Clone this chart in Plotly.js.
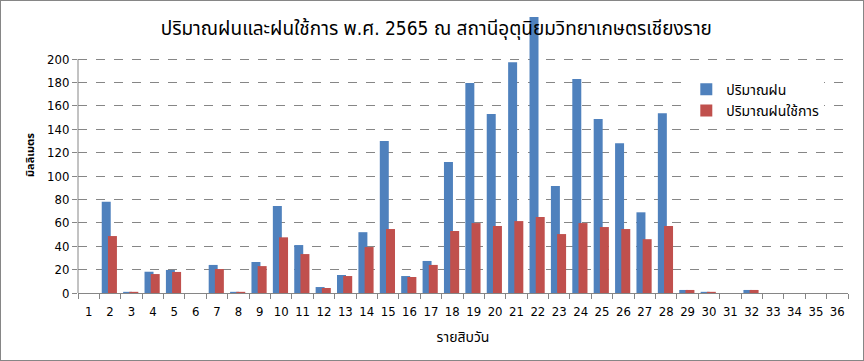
<!DOCTYPE html>
<html>
<head>
<meta charset="utf-8">
<script src="https://cdn.plot.ly/plotly-3.0.1.min.js"></script>
<style>
  html, body { margin: 0; padding: 0; background: #fff; }
  #frame { width: 864px; height: 361px; box-sizing: border-box; border: 1px solid #868686; overflow: hidden; }
  #chart { width: 862px; height: 359px; }
</style>
</head>
<body>
<div id="frame"><div id="chart"></div></div>
<script>
const categories = ["1","2","3","4","5","6","7","8","9","10","11","12","13","14","15","16","17","18",
                    "19","20","21","22","23","24","25","26","27","28","29","30","31","32","33","34","35","36"];
const rainfall = [0, 78, 1, 18.2, 19.7, 0, 24, 1, 26.5, 74.4, 41, 5.1, 15.4, 52, 130, 14.5, 27.4, 112,
                  179.5, 153, 197.4, 236, 91.5, 183, 148.7, 128, 69, 153.8, 2.6, 1, 0, 2.6, 0, 0, 0, 0];
const effectiveRain = [0, 48.7, 1, 16.2, 18, 0, 20.5, 1, 23, 47.6, 33.3, 4.3, 14.5, 39.3, 54.7, 13.7, 24, 53,
                       59.8, 57.3, 61.5, 65, 50.4, 59.8, 56.4, 54.7, 46, 57.3, 2.6, 1, 0, 2.6, 0, 0, 0, 0];
const yTickValues = [0, 20, 40, 60, 80, 100, 120, 140, 160, 180, 200];
const seriesNames = ["ปริมาณฝน", "ปริมาณฝนใช้การ"];
const titleText = "ปริมาณฝนและฝนใช้การ พ.ศ. 2565 ณ สถานีอุตุนิยมวิทยาเกษตรเชียงราย";
const xTitle = "รายสิบวัน";
const yTitle = "มิลลิเมตร";

const FONT = "Tahoma, 'DejaVu Sans Condensed', 'Noto Sans Thai', sans-serif";
const yMax = yTickValues[yTickValues.length - 1];

const traces = [
  { type: "bar", name: seriesNames[0], x: categories, y: rainfall,
    marker: { color: "#4F81BD" }, width: 0.42, offset: -0.39, hoverinfo: "x+y" },
  { type: "bar", name: seriesNames[1], x: categories, y: effectiveRain,
    marker: { color: "#C0504D" }, width: 0.42, offset: -0.10, hoverinfo: "x+y" }
];

const layout = {
  width: 862, height: 359,
  margin: { l: 77, r: 15, t: 16, b: 67 },
  paper_bgcolor: "#ffffff", plot_bgcolor: "#ffffff",
  barmode: "overlay",
  font: { family: FONT, size: 13, color: "#000" },
  title: { text: titleText, font: { family: FONT, size: 19, color: "#000" },
           x: 0.505, xanchor: "center", y: 0.925, yanchor: "middle" },
  showlegend: true,
  legend: { x: 0.79, y: 0.795, xanchor: "left", yanchor: "top", bgcolor: "#ffffff",
            font: { family: FONT, size: 14, color: "#000" }, tracegroupgap: 0, itemwidth: 30 },
  xaxis: {
    type: "category", categoryorder: "array", categoryarray: categories,
    range: [-0.5, 35.5], showgrid: false, zeroline: false,
    showline: true, linecolor: "#868686", linewidth: 1,
    ticks: "outside", tickson: "boundaries", ticklen: 5, tickcolor: "#868686",
    tickangle: 0, ticklabelstandoff: 6,
    tickfont: { family: FONT, size: 13, color: "#000" },
    title: { text: xTitle, font: { family: FONT, size: 14, color: "#000" }, standoff: 14 }
  },
  yaxis: {
    range: [0, 236], tickmode: "array", tickvals: yTickValues,
    showgrid: true, gridcolor: "#868686", griddash: "dash", gridwidth: 1,
    zeroline: false, showline: false,
    ticks: "outside", ticklen: 5, tickcolor: "#868686",
    tickfont: { family: FONT, size: 13, color: "#000" },
    title: { text: yTitle, font: { family: FONT, size: 11, color: "#000", weight: "bold" }, standoff: 10 }
  },
  shapes: [
    { type: "line", xref: "paper", yref: "y", x0: 0, x1: 0, y0: 0, y1: yMax,
      line: { color: "#868686", width: 1 }, layer: "above" }
  ]
};

Plotly.newPlot("chart", traces, layout, { displayModeBar: false, staticPlot: true });
</script>
</body>
</html>
